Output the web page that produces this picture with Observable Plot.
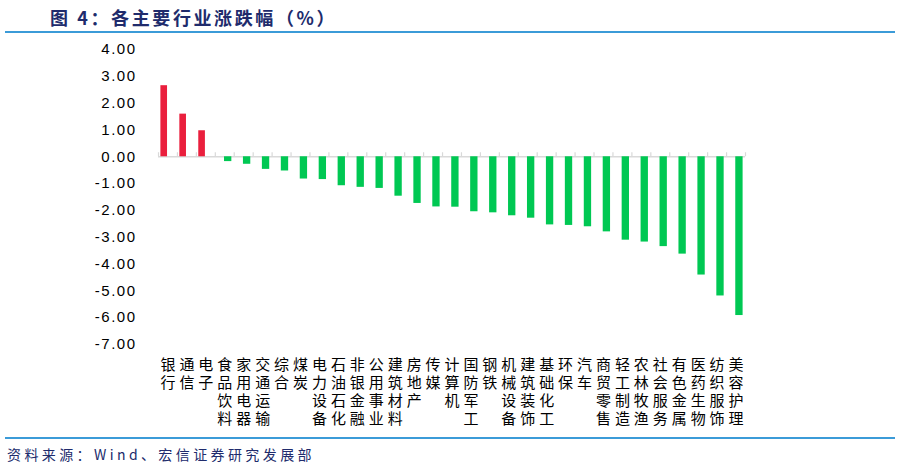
<!DOCTYPE html>
<html>
<head>
<meta charset="utf-8">
<script src="https://cdn.jsdelivr.net/npm/d3@7"></script>
<script src="https://cdn.jsdelivr.net/npm/@observablehq/plot@0.6"></script>
<style>
  html, body { margin: 0; padding: 0; background: #fff; width: 900px; height: 469px; overflow: hidden; position: relative; }
  #title { position: absolute; left: 50px; top: 4px; font: bold 18px "Noto Sans CJK SC"; letter-spacing: 2.6px; color: #202b6c; white-space: nowrap; }
  .rule { position: absolute; left: 5px; width: 890px; height: 2px; background: #3b9bd8; }
  #chart { position: absolute; left: 0; top: 33px; }
  #source { position: absolute; left: 7px; top: 444px; font: 14px "Noto Sans CJK SC"; letter-spacing: 3.4px; color: #202b6c; white-space: nowrap; }
</style>
</head>
<body>
<div id="title">图 4：各主要行业涨跌幅（%）</div>
<div class="rule" style="top:31px"></div>
<div id="chart"></div>
<div class="rule" style="top:437px"></div>
<div id="source">资料来源：Wind、宏信证券研究发展部</div>
<script>
const industries = ["银行","通信","电子","食品饮料","家用电器","交通运输","综合","煤炭","电力设备","石油石化","非银金融","公用事业","建筑材料","房地产","传媒","计算机","国防军工","钢铁","机械设备","建筑装饰","基础化工","环保","汽车","商贸零售","轻工制造","农林牧渔","社会服务","有色金属","医药生物","纺织服饰","美容护理"];
const changes = [2.65, 1.59, 0.97, -0.18, -0.28, -0.47, -0.53, -0.83, -0.85, -1.08, -1.14, -1.18, -1.47, -1.74, -1.87, -1.88, -2.05, -2.09, -2.20, -2.29, -2.54, -2.56, -2.61, -2.80, -3.11, -3.18, -3.35, -3.63, -4.41, -5.19, -5.92];
const yTicks = [4, 3, 2, 1, 0, -1, -2, -3, -4, -5, -6, -7];

const data = industries.map((name, i) => ({name, value: changes[i]}));
const W = 900, H = 402, ML = 158, MR = 155, MT = 16, MB = 91;
const bw = (W - ML - MR) / industries.length;

const plot = Plot.plot({
  width: W, height: H,
  marginLeft: ML, marginRight: MR, marginTop: MT, marginBottom: MB,
  style: {background: "#fff", color: "#000"},
  x: {type: "band", domain: industries, range: [ML, W - MR], paddingInner: 0, paddingOuter: 0, round: false, axis: null},
  y: {domain: [-7, 4], axis: null},
  marks: [
    Plot.axisY({ticks: yTicks, tickSize: 0, tickPadding: 22, tickFormat: d => d.toFixed(2), fontSize: 15, fontFamily: "Liberation Sans", fill: "#000", label: null}),
    Plot.ruleY([0], {stroke: "#d9d9d9", strokeWidth: 1.5}),
    Plot.ruleX(industries, {x: d => d, y1: 0, y2: 0.15, dx: -bw / 2, stroke: "#d9d9d9", strokeWidth: 1.2}),
    Plot.ruleX([industries[industries.length - 1]], {x: d => d, y1: 0, y2: 0.15, dx: bw / 2, stroke: "#d9d9d9", strokeWidth: 1.2}),
    Plot.barY(data.filter(d => d.value > 0), {x: "name", y: "value", fill: "#ea1f3d", insetLeft: 2.4, insetRight: 9.9}),
    Plot.barY(data.filter(d => d.value <= 0), {x: "name", y: "value", fill: "#00c853", insetLeft: 9.2, insetRight: 2.4}),
    Plot.axisX({tickSize: 0, tickPadding: 13, tickFormat: d => d.split("").join("\n"), fontSize: 15, lineHeight: 1.19, fontFamily: "Noto Sans CJK SC", fill: "#000", label: null})
  ]
});
plot.querySelectorAll('[aria-label="y-axis tick label"] text').forEach(t => t.setAttribute("letter-spacing", "1.5"));
document.getElementById("chart").appendChild(plot);
</script>
</body>
</html>
